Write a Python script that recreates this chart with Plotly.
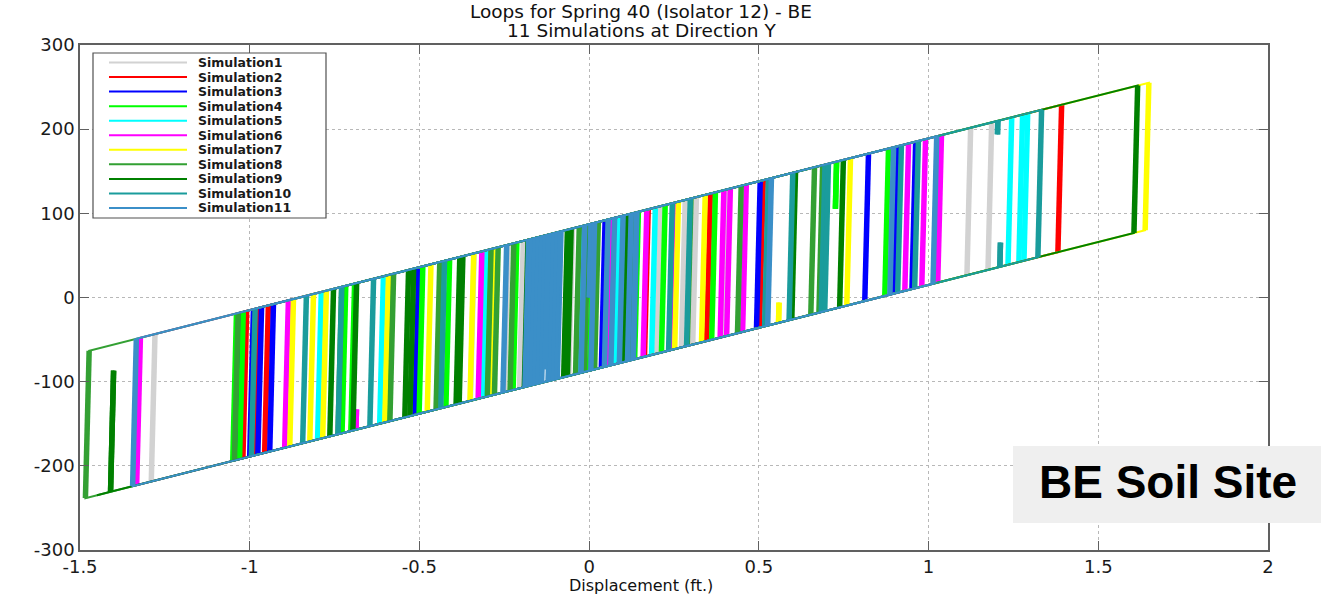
import plotly.graph_objects as go

# ---------------------------------------------------------------
# Lead-rubber isolator, bilinear hysteresis parameters
# ---------------------------------------------------------------
Q_CHAR = 87.0       # characteristic strength (kip)
K_POST = 102.0      # post-yield stiffness (kip/ft)
K_ELAS = 16000.0    # elastic (unloading) stiffness (kip/ft)

SIM_NAMES = ["Simulation1", "Simulation2", "Simulation3", "Simulation4",
             "Simulation5", "Simulation6", "Simulation7", "Simulation8",
             "Simulation9", "Simulation10", "Simulation11"]
SIM_COLORS = ["#d2d2d2", "#ff0000", "#0000ff", "#00ff00", "#00ffff",
              "#ff00ff", "#ffff00", "#33a033", "#008000", "#1a9c9c",
              "#3b8fc8"]

# Displacement reversal points of each simulation (ft), in time order
SIM1_PEAKS = [0.316, -0.35, 0.283, -0.52, 0.401, -1.29, 1.186, -0.60,
              1.124, -0.25, 0.30, -0.06, 0.21, -0.205, 0.0]
SIM2_PEAKS = [0.174, -0.956, 0.513, -1.02, 1.392, -0.985, 0.357, -0.70,
              -0.698, -0.75]
SIM3_PEAKS = [0.047, -0.156, 0.504, -0.513, 0.693, -0.941, 0.823, -1.041,
              0.962, -0.976, 0.906, -1.0, 0.30]
SIM4_PEAKS = [0.012, -0.224, 0.224, -0.422, 0.372, -0.702, 0.729, 0.7255,
              0.882, -1.05, -0.717, -1.03, -0.49, -0.60, 0.145, -0.115,
              0.05]
SIM5_PEAKS = [0.086, -0.313, 0.195, -0.617, 1.245, -0.80, 1.292, -0.032,
              1.277, 0.115, 0.30]
SIM6_PEAKS = [0.065, -0.298, 0.248, -0.327, 0.463, -0.687, -0.6855, -0.897,
              0.991, -1.333, 1.038, 0.159, 0.416, 0.386, 0.941, 0.419]
SIM7_PEAKS = [0.263, -0.068, 0.342, -0.351, 0.77, -0.602, 1.649, 0.558,
              0.5595, -0.823, -0.283, -0.785, -0.466, -0.882, -0.20]
SIM8_PEAKS = [0.027, -0.233, 0.448, -0.587, 0.664, -1.484, 0.688, -0.74,
              0.30, -0.451, -0.268, -1.045, -0.003, -0.30, 0.135, -0.04,
              0.06]
SIM9_PEAKS = [0.11, -0.075, 0.749, -0.528, 1.616, -0.764, 0.608, -0.392,
              -0.053, -0.696, -0.18, -0.543, -0.372, -1.41, -1.401, -1.45]
SIM10_PEAKS = [0.298, -0.437, 0.528, -0.646, 1.204, 1.203, 1.333, 1.21,
               1.2118, -0.844, 0.60, -0.74, 0.92, -0.995, 0.97, 0.684,
               0.705, 0.13, 0.245, -0.115, 0.0]
SIM11_PEAKS = [0.537, -0.254, 1.024, -1.345, 0.897, -0.024, 0.124, 0.005,
               0.14, 0.045, 0.075, -0.189, 0.10, -0.18, -0.083, -0.17,
               -0.09, -0.16, -0.10, -0.15, -0.11, -0.14, -0.12, -0.13]

SIM_PEAKS = [SIM1_PEAKS, SIM2_PEAKS, SIM3_PEAKS, SIM4_PEAKS, SIM5_PEAKS,
             SIM6_PEAKS, SIM7_PEAKS, SIM8_PEAKS, SIM9_PEAKS, SIM10_PEAKS,
             SIM11_PEAKS]

X_TICKS = [-1.5, -1.0, -0.5, 0.0, 0.5, 1.0, 1.5, 2.0]
X_TICK_TEXT = ["-1.5", "-1", "-0.5", "0", "0.5", "1", "1.5", "2"]
Y_TICKS = [-300, -200, -100, 0, 100, 200, 300]
Y_TICK_TEXT = ["-300", "-200", "-100", "0", "100", "200", "300"]

TITLE_LINES = ["Loops for Spring 40 (Isolator 12) - BE",
               "11 Simulations at Direction Y"]
X_LABEL = "Displacement (ft.)"
SITE_LABEL = "BE Soil Site"


def hysteresis_path(peaks):
    """Force-displacement path of a bilinear isolator driven through peaks.

    Returns the full path and, separately, the elastic (reversal) legs.
    """
    k_h = K_ELAS - K_POST
    x, fh = 0.0, 0.0
    xs, fs = [x], [K_POST * x + fh]
    ex, ef = [], []
    for target in peaks:
        step = target - x
        sgn = 1.0 if step > 0 else -1.0
        dx_el = (sgn * Q_CHAR - fh) / k_h
        x_start, f_start = x, K_POST * x + fh
        if abs(dx_el) < abs(step):
            x += dx_el
            fh = sgn * Q_CHAR
            xs.append(x)
            fs.append(K_POST * x + fh)
            ex += [x_start, x, None]
            ef += [f_start, K_POST * x + fh, None]
            x = target
        else:
            fh += k_h * step
            x = target
            ex += [x_start, x, None]
            ef += [f_start, K_POST * x + fh, None]
        xs.append(x)
        fs.append(K_POST * x + fh)
    return xs, fs, ex, ef


fig = go.Figure()
for name, color, peaks in zip(SIM_NAMES, SIM_COLORS, SIM_PEAKS):
    xs, fs, ex, ef = hysteresis_path(peaks)
    fig.add_trace(go.Scatter(x=xs, y=fs, mode="lines", name=name,
                             line=dict(color=color, width=2),
                             hoverinfo="skip", showlegend=False))
    fig.add_trace(go.Scatter(x=ex, y=ef, mode="lines", name=name,
                             line=dict(color=color, width=5.5),
                             hoverinfo="skip", showlegend=False))

# Plot-area geometry in pixels, used to place paper-referenced items
W, H = 1321, 594
PL, PR, PT, PB = 80, 1268, 45, 550


def px(xp):
    return (xp - PL) / (PR - PL)


def py(yp):
    return (PB - yp) / (PB - PT)


FONT = "DejaVu Sans"
axis_common = dict(showline=True, linecolor="#606060", linewidth=1.5,
                   mirror="allticks", ticks="inside", ticklen=9,
                   tickcolor="#606060", showgrid=True, gridcolor="#b8b8b8",
                   griddash="dot", gridwidth=1, zeroline=False,
                   tickfont=dict(family=FONT, size=18, color="#1a1a1a"))

fig.update_xaxes(range=[-1.5, 2.0], tickvals=X_TICKS, ticktext=X_TICK_TEXT,
                 **axis_common)
fig.update_yaxes(range=[-300, 300], tickvals=Y_TICKS, ticktext=Y_TICK_TEXT,
                 **axis_common)

shapes = []
annotations = []

# Title lines and axis label
annotations.append(dict(text=TITLE_LINES[0], x=px(641), y=py(12),
                        xref="paper", yref="paper", showarrow=False,
                        xanchor="center", yanchor="middle",
                        font=dict(family=FONT, size=18.5, color="#111111")))
annotations.append(dict(text=TITLE_LINES[1], x=px(641), y=py(31),
                        xref="paper", yref="paper", showarrow=False,
                        xanchor="center", yanchor="middle",
                        font=dict(family=FONT, size=18.5, color="#111111")))
annotations.append(dict(text=X_LABEL, x=px(641), y=py(585),
                        xref="paper", yref="paper", showarrow=False,
                        xanchor="center", yanchor="middle",
                        font=dict(family=FONT, size=16, color="#111111")))

# Legend box with line samples
shapes.append(dict(type="rect", xref="paper", yref="paper",
                   x0=px(93), x1=px(326), y0=py(218), y1=py(53),
                   fillcolor="white", line=dict(color="#505050", width=1.2),
                   layer="above"))
for i, (name, color) in enumerate(zip(SIM_NAMES, SIM_COLORS)):
    row_y = 62.5 + 14.55 * i
    shapes.append(dict(type="line", xref="paper", yref="paper",
                       x0=px(109), x1=px(187), y0=py(row_y), y1=py(row_y),
                       line=dict(color=color, width=2), layer="above"))
    annotations.append(dict(text=name, x=px(196), y=py(row_y),
                            xref="paper", yref="paper", showarrow=False,
                            xanchor="left", yanchor="middle",
                            font=dict(family=FONT, size=12.5, color="#1a1a1a",
                                      weight="bold")))

# Site label panel
shapes.append(dict(type="rect", xref="paper", yref="paper",
                   x0=px(1013), x1=px(1321), y0=py(523), y1=py(446),
                   fillcolor="#efefef", line=dict(width=0), layer="above"))
annotations.append(dict(text=SITE_LABEL, x=px(1167.5), y=py(482),
                        xref="paper", yref="paper", showarrow=False,
                        xanchor="center", yanchor="middle",
                        font=dict(family="Liberation Sans", size=46,
                                  color="#000000", weight="bold")))

fig.update_layout(width=W, height=H,
                  margin=dict(l=PL, r=W - PR, t=PT, b=H - PB),
                  paper_bgcolor="white", plot_bgcolor="white",
                  shapes=shapes, annotations=annotations,
                  showlegend=False)

fig.write_html("out.html")
